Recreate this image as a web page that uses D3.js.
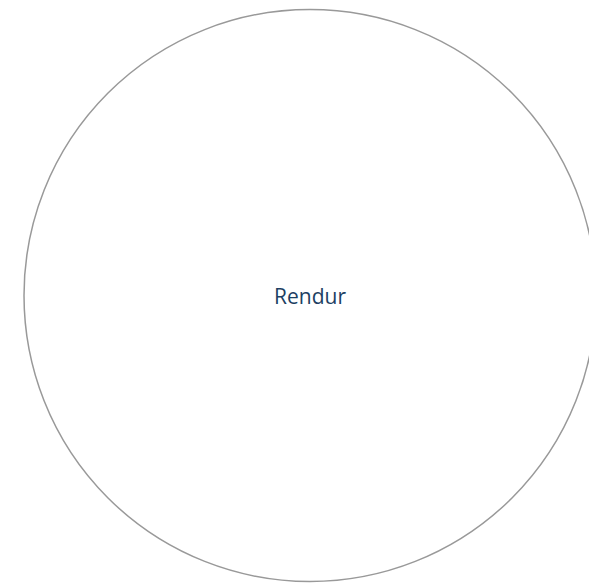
<!doctype html>
<html>
<head>
<meta charset="utf-8">
<script src="https://d3js.org/d3.v7.min.js"></script>
<style>
  body { margin: 0; background: #fff; }
</style>
</head>
<body>
<svg width="589" height="585"></svg>
<script>
  // root node only
  var names = ["Rendur"];
  var values = [1];

  var svg = d3.select("svg"),
      diameter = 572;

  var root = d3.hierarchy({ name: names[0], value: values[0] })
      .sum(function(d) { return d.value; });

  d3.pack().size([diameter, diameter]).padding(2)(root);

  var g = svg.append("g")
      .attr("transform", "translate(24,9.5)");

  var node = g.selectAll(".node")
      .data(root.descendants())
      .enter().append("g")
      .attr("transform", function(d) { return "translate(" + d.x + "," + d.y + ")"; });

  node.append("circle")
      .attr("r", function(d) { return d.r; })
      .attr("fill", "#fff")
      .attr("stroke", "#999")
      .attr("stroke-width", 1.5);

  node.append("text")
      .attr("text-anchor", "middle")
      .attr("dy", "0.4em")
      .attr("font-family", "'Open Sans', sans-serif")
      .attr("font-size", "21px")
      .attr("fill", "#1d3f63")
      .text(function(d) { return d.data.name; });
</script>
</body>
</html>
